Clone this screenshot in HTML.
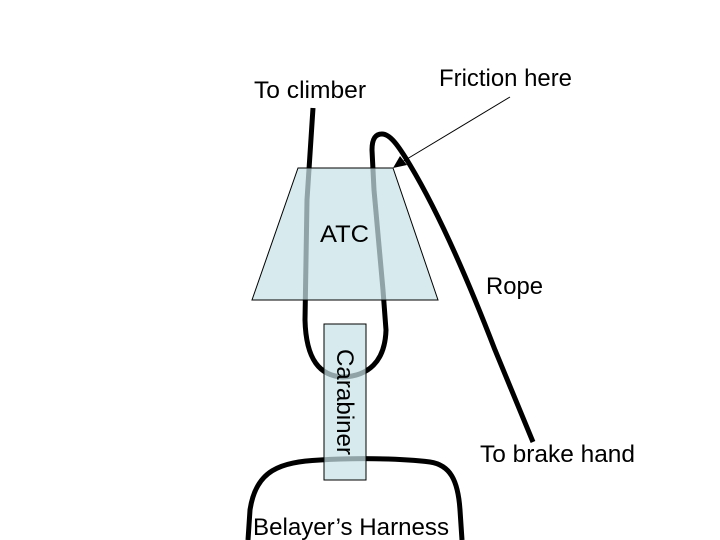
<!DOCTYPE html>
<html><head><style>
html,body{margin:0;padding:0;background:#fff;}
svg{display:block;}
text{font-family:"Liberation Sans",Arial,sans-serif;font-size:24px;fill:#000;}
</style></head><body>
<svg width="720" height="540" viewBox="0 0 720 540" xmlns="http://www.w3.org/2000/svg">
<g fill="none" stroke="#000" stroke-width="5" stroke-linecap="butt">
<path d="M313,108 L307,200 L305,320 C306,360 320,376 343,377 C368,376 385,362 386,330 L383,290 L374,190 L372,150 C372,138 376,134 382,134 C390,134 398,145 410,165 C440,215 468,280 495,350 L533,442"/>
<path d="M248,540 L250,510 C256,470 280,462 320,460 C350,458 400,458 430,462 C450,465 458,480 460,510 L462,540"/>
</g>
<polygon points="298,168 393,168 438,300 252,300" fill="#c8e3e7" fill-opacity="0.72" stroke="#000" stroke-width="1"/>
<rect x="324" y="324" width="42" height="156" fill="#c8e3e7" fill-opacity="0.72" stroke="#000" stroke-width="1"/>
<line x1="510" y1="97" x2="402" y2="162" stroke="#000" stroke-width="1"/>
<polygon points="393,168 400,156 407,165" fill="#000"/>
<text x="254" y="98" textLength="112" lengthAdjust="spacingAndGlyphs">To climber</text>
<text x="439" y="86" textLength="133" lengthAdjust="spacingAndGlyphs">Friction here</text>
<text x="320" y="242" textLength="49" lengthAdjust="spacingAndGlyphs">ATC</text>
<text x="486" y="294" textLength="57" lengthAdjust="spacingAndGlyphs">Rope</text>
<text x="480" y="462" textLength="155" lengthAdjust="spacingAndGlyphs">To brake hand</text>
<text x="253" y="535" textLength="196" lengthAdjust="spacingAndGlyphs">Belayer’s Harness</text>
<text transform="translate(337,349) rotate(90)" textLength="106" lengthAdjust="spacingAndGlyphs">Carabiner</text>
</svg>
</body></html>
